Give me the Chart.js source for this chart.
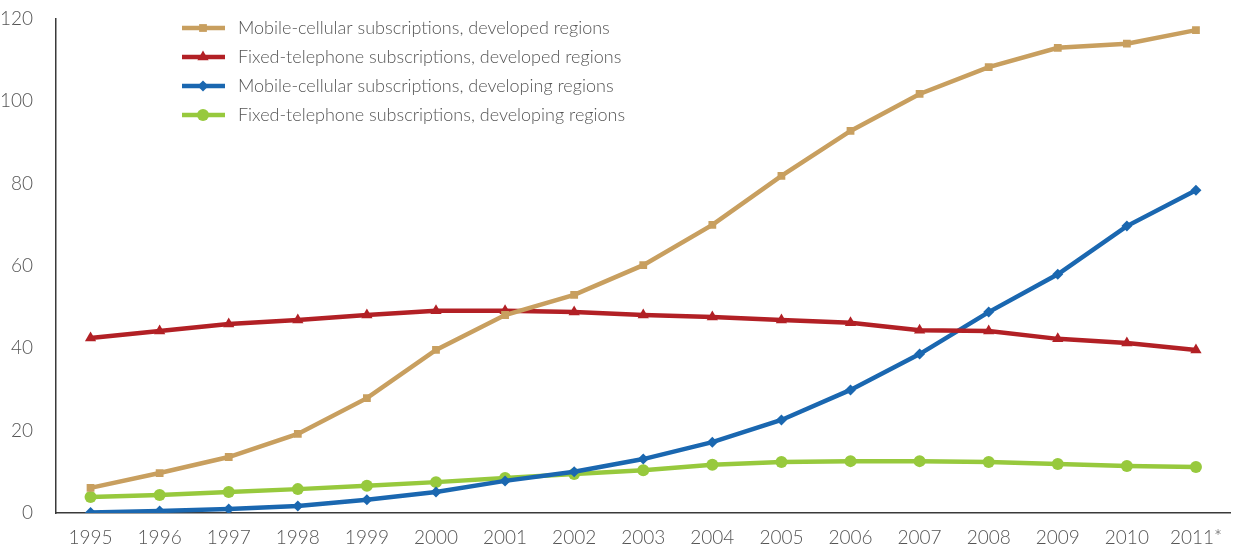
<!DOCTYPE html>
<html>
<head>
<meta charset="utf-8">
<script src="https://cdn.jsdelivr.net/npm/chart.js@4.4.1/dist/chart.umd.min.js"></script>
<style>
  html, body { margin: 0; padding: 0; background: #fff; }
  #wrap { width: 1237px; height: 544px; }
</style>
</head>
<body>
<div id="wrap"><canvas id="subsChart"></canvas></div>
<script>
// values (per 100 inhabitants)
const years = ['1995', '1996', '1997', '1998', '1999', '2000', '2001', '2002', '2003',
    '2004', '2005', '2006', '2007', '2008', '2009', '2010', '2011*'];
const mobileDeveloped = [6.1, 9.7, 13.6, 19.2, 27.9, 39.6, 48.1, 53.0, 60.2,
    70.0, 81.9, 92.8, 101.8, 108.3, 113.0, 114.0, 117.3];
const fixedDeveloped = [42.5, 44.2, 45.9, 46.9, 48.1, 49.1, 49.1, 48.8, 48.1,
    47.6, 46.9, 46.2, 44.4, 44.2, 42.3, 41.3, 39.6];
const mobileDeveloping = [0.1, 0.5, 1.0, 1.7, 3.2, 5.1, 7.8, 10.0, 13.1,
    17.2, 22.6, 29.9, 38.6, 48.8, 58.0, 69.7, 78.4];
const fixedDeveloping = [3.9, 4.4, 5.1, 5.8, 6.6, 7.5, 8.5, 9.5, 10.4,
    11.7, 12.4, 12.6, 12.6, 12.4, 11.9, 11.4, 11.2];
const yTicks = [0, 20, 40, 60, 80, 100, 120];

const FONT = 'Lato, "Open Sans", sans-serif';
const TEXT = '#555555';

function series(label, data, color, style, radius, rotation) {
    return {
        label: label,
        data: data,
        borderColor: color,
        backgroundColor: color,
        borderWidth: 4.5,
        pointStyle: style,
        pointRadius: radius,
        pointRotation: rotation || 0,
        pointBorderWidth: 0,
        tension: 0
    };
}

// legend drawn inside the plot, line + marker like the original
const innerLegend = {
    id: 'innerLegend',
    afterDraw(chart) {
        const ctx = chart.ctx;
        const area = chart.chartArea;
        const x0 = area.left + 126;
        let y = area.top + 9;
        ctx.save();
        chart.data.datasets.forEach(ds => {
            ctx.strokeStyle = ds.borderColor;
            ctx.lineWidth = 4.5;
            ctx.beginPath();
            ctx.moveTo(x0, y);
            ctx.lineTo(x0 + 43, y);
            ctx.stroke();
            ctx.fillStyle = ds.backgroundColor;
            Chart.helpers.drawPoint(ctx, {
                pointStyle: ds.pointStyle,
                radius: ds.pointRadius,
                rotation: ds.pointRotation,
                borderWidth: 0
            }, x0 + 21, y);
            ctx.fillStyle = TEXT;
            ctx.font = '300 18px ' + FONT;
            ctx.textBaseline = 'middle';
            ctx.fillText(ds.label, x0 + 56, y);
            y += 29;
        });
        ctx.restore();
    }
};

new Chart(document.getElementById('subsChart'), {
    type: 'line',
    data: {
        labels: years,
        datasets: [
            series('Mobile-cellular subscriptions, developed regions', mobileDeveloped, '#c89f5f', 'rect', 5.5),
            series('Fixed-telephone subscriptions, developed regions', fixedDeveloped, '#b22025', 'triangle', 6.5),
            series('Mobile-cellular subscriptions, developing regions', mobileDeveloping, '#1a67b0', 'rectRot', 5.5),
            series('Fixed-telephone subscriptions, developing regions', fixedDeveloping, '#97c93d', 'circle', 6)
        ]
    },
    options: {
        responsive: true,
        maintainAspectRatio: false,
        animation: false,
        layout: { padding: { top: 19, right: 5, left: 0, bottom: 0 } },
        plugins: {
            legend: { display: false },
            tooltip: { enabled: false }
        },
        scales: {
            x: {
                offset: true,
                grid: { display: false },
                border: { display: true, color: '#3a3a3a', width: 1.5 },
                ticks: { color: TEXT, font: { family: FONT, size: 19, weight: '300' }, padding: 5, maxRotation: 0 },
                afterFit(scale) { scale.height = 31; }
            },
            y: {
                min: 0,
                max: 120,
                afterBuildTicks(scale) { scale.ticks = yTicks.map(v => ({ value: v })); },
                grid: { display: false },
                border: { display: true, color: '#3a3a3a', width: 1.5 },
                ticks: { color: TEXT, font: { family: FONT, size: 19, weight: '300' }, padding: 15 },
                afterFit(scale) {
                    scale.width = 56;
                    scale.paddingTop = 0;
                    scale.paddingBottom = 0;
                }
            }
        }
    },
    plugins: [innerLegend]
});
</script>
</body>
</html>
